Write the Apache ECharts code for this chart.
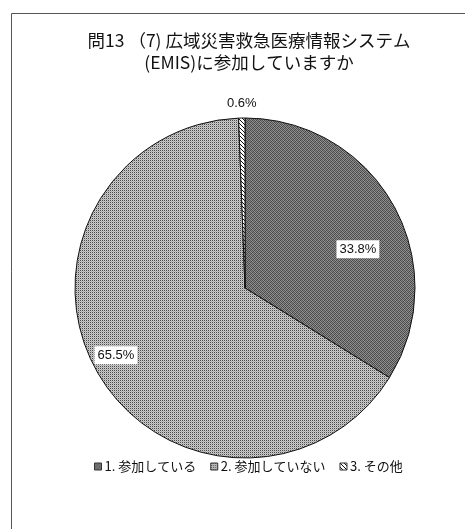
<!DOCTYPE html>
<html>
<head>
<meta charset="utf-8">
<script src="https://cdn.jsdelivr.net/npm/echarts@6/dist/echarts.min.js"></script>
<style>
html,body{margin:0;padding:0;background:#fff;}
#chart{width:465px;height:529px;}
</style>
</head>
<body>
<div id="chart"></div>
<script>
const titleLines = ['問13 （7) 広域災害救急医療情報システム', '(EMIS)に参加していますか'];
const categories = ['1. 参加している', '2. 参加していない', '3. その他'];
const values = [33.8, 65.5, 0.6];

function makePattern(kind) {
  const c = document.createElement('canvas');
  const ctx = c.getContext('2d');
  if (kind === 'dark') {
    c.width = 4; c.height = 4;
    const px = [
      ['#444444','#888888','#555555','#969696'],
      ['#969696','#555555','#888888','#444444'],
      ['#555555','#969696','#444444','#888888'],
      ['#888888','#444444','#969696','#555555']
    ];
    for (let y = 0; y < 4; y++) for (let x = 0; x < 4; x++) { ctx.fillStyle = px[y][x]; ctx.fillRect(x, y, 1, 1); }
  } else if (kind === 'light') {
    c.width = 2; c.height = 2;
    ctx.fillStyle = '#cacaca'; ctx.fillRect(0, 0, 2, 2);
    ctx.fillStyle = '#4a4a4a'; ctx.fillRect(0, 0, 1, 1);
    ctx.fillStyle = '#adadad'; ctx.fillRect(1, 1, 1, 1);
  } else {
    c.width = 4; c.height = 4;
    ctx.fillStyle = '#ffffff'; ctx.fillRect(0, 0, 4, 4);
    ctx.fillStyle = '#111111';
    for (let i = 0; i < 4; i++) ctx.fillRect(i, i, 1, 1);
  }
  return { image: c, repeat: 'repeat' };
}
const patterns = [makePattern('dark'), makePattern('light'), makePattern('hatch')];

const labelOffsets = [
  { dx: 36, dy: 4 },
  { dx: -53, dy: 23 },
  { dx: 20, dy: -5 }
];

const chart = echarts.init(document.getElementById('chart'), null, { renderer: 'canvas' });
chart.setOption({
  backgroundColor: '#ffffff',
  animation: false,
  title: {
    text: titleLines.join('\n'),
    left: 244,
    textAlign: 'center',
    top: 24,
    textStyle: {
      fontFamily: '"Noto Sans CJK JP", "Liberation Sans", sans-serif',
      fontSize: 17.5,
      fontWeight: 'normal',
      color: '#111',
      lineHeight: 22
    }
  },
  graphic: [{
    type: 'polyline',
    shape: { points: [[11.5, 529], [11.5, 13.5], [465, 13.5]] },
    style: { stroke: '#555', lineWidth: 1, fill: null },
    silent: true
  }],
  legend: {
    data: categories,
    bottom: 51,
    left: 89,
    itemWidth: 7,
    itemHeight: 7,
    itemGap: 14,
    icon: 'rect',
    textStyle: {
      fontFamily: '"Noto Sans CJK JP", "Liberation Sans", sans-serif',
      fontSize: 13,
      color: '#111',
      padding: [0, 0, 0, -2]
    },
    itemStyle: { borderColor: '#333', borderWidth: 1 }
  },
  series: [{
    type: 'pie',
    center: [245, 288],
    radius: [0, 170],
    startAngle: 90,
    clockwise: true,
    avoidLabelOverlap: false,
    itemStyle: { borderColor: '#111', borderWidth: 1 },
    emphasis: { disabled: true },
    labelLine: { show: false, length: 10, length2: 0 },
    label: {
      fontFamily: '"Liberation Sans", "Noto Sans CJK JP", sans-serif',
      fontSize: 13,
      color: '#111',
      formatter: p => p.value.toFixed(1) + '%'
    },
    labelLayout: function (params) {
      return labelOffsets[params.dataIndex];
    },
    data: categories.map((name, i) => {
      const item = { name: name, value: values[i], itemStyle: { color: patterns[i] } };
      if (i < 2) {
        item.label = { position: 'inside', backgroundColor: '#fff', padding: [3, 3, 2, 3] };
      } else {
        item.label = { position: 'outside' };
      }
      return item;
    })
  }]
});
</script>
</body>
</html>
